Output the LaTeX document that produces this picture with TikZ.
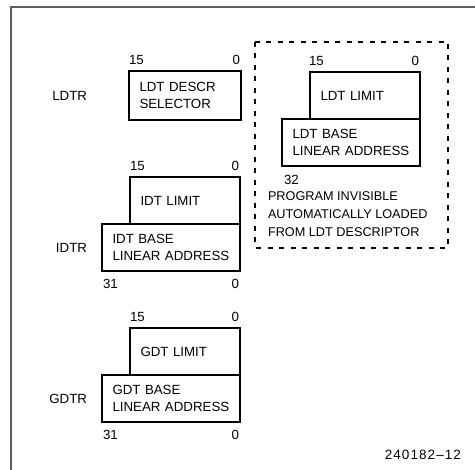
\documentclass[tikz,border=0pt]{standalone}
\usepackage{fontspec}
\setmainfont{Liberation Sans}
\newfontfamily\figidfont[LetterSpace=8]{Liberation Sans}
\usepackage{tikz}
\usetikzlibrary{positioning}
\definecolor{framegray}{RGB}{95,95,95}

\begin{document}
\begin{tikzpicture}[x=1pt, y=-1pt,
  every node/.style={font=\fontsize{13.3}{17}\selectfont, inner sep=0pt, outer sep=0pt},
  regbox/.style={draw, line width=2.8pt, anchor=north west, align=left,
    inner xsep=10.5pt, minimum height=47pt},
  regname/.style={anchor=east},
  notetext/.style={anchor=north west, align=left, font=\fontsize{12.7}{18}\selectfont}]
  \useasboundingbox (0,0) rectangle (475,470);
  % page frame, top and left edge only
  \draw[framegray, line width=1.5pt] (475,7) -- (11,7) -- (11,470);

  % LDTR: the visible selector
  \node[regbox, text width=91pt, minimum height=49pt] (ldtsel) at (129,71) {LDT DESCR\\SELECTOR};
  \node[anchor=south west] (ldtselhi) at ([yshift=6pt]ldtsel.north west) {15};
  \node[anchor=south east] (ldtsello) at ([xshift=-1pt,yshift=6pt]ldtsel.north east) {0};
  \node[regname, left=42pt of ldtsel] (ldtr) {LDTR};

  % IDTR
  \node[regbox, text width=89pt] (idtlim) at (130,177) {IDT LIMIT};
  \node[regbox, text width=117pt] (idtbase) at (102,224) {IDT BASE\\LINEAR ADDRESS};
  \node[anchor=south west] (idtlimhi) at ([yshift=6pt]idtlim.north west) {15};
  \node[anchor=south east] (idtlimlo) at ([xshift=-1pt,yshift=6pt]idtlim.north east) {0};
  \node[anchor=north west] (idtbasehi) at ([xshift=1pt,yshift=-8pt]idtbase.south west) {31};
  \node[anchor=north east] (idtbaselo) at ([xshift=-1pt,yshift=-8pt]idtbase.south east) {0};
  \node[regname, left=15pt of idtbase] (idtr) {IDTR};

  % GDTR
  \node[regbox, text width=89pt] (gdtlim) at (130,328) {GDT LIMIT};
  \node[regbox, text width=117pt] (gdtbase) at (102,375) {GDT BASE\\LINEAR ADDRESS};
  \node[anchor=south west] (gdtlimhi) at ([yshift=6pt]gdtlim.north west) {15};
  \node[anchor=south east] (gdtlimlo) at ([xshift=-1pt,yshift=6pt]gdtlim.north east) {0};
  \node[anchor=north west] (gdtbasehi) at ([xshift=1pt,yshift=-8pt]gdtbase.south west) {31};
  \node[anchor=north east] (gdtbaselo) at ([xshift=-1pt,yshift=-8pt]gdtbase.south east) {0};
  \node[regname, left=15pt of gdtbase] (gdtr) {GDTR};

  % hidden part of LDTR, dashed
  \draw[line width=2.8pt, dash pattern=on 5pt off 6.5pt] (255,42) rectangle (448,248);
  \node[regbox, text width=89pt] (ldtlim) at (310,72) {LDT LIMIT};
  \node[regbox, text width=117pt] (ldtbase) at (282,119) {LDT BASE\\LINEAR ADDRESS};
  \node[anchor=south west] (ldtlimhi) at ([xshift=-1pt,yshift=6pt]ldtlim.north west) {15};
  \node[anchor=south east] (ldtlimlo) at ([xshift=-1pt,yshift=6pt]ldtlim.north east) {0};
  \node[anchor=north west] (ldtbasehi) at ([xshift=2pt,yshift=-9pt]ldtbase.south west) {32};
  \node[notetext] (note) at (268,192) {PROGRAM INVISIBLE\\AUTOMATICALLY LOADED\\FROM LDT DESCRIPTOR};

  \node[anchor=east, font=\figidfont\fontsize{13.5}{16}\selectfont] (figid) at (461,455) {240182\textendash12};
\end{tikzpicture}
\end{document}
